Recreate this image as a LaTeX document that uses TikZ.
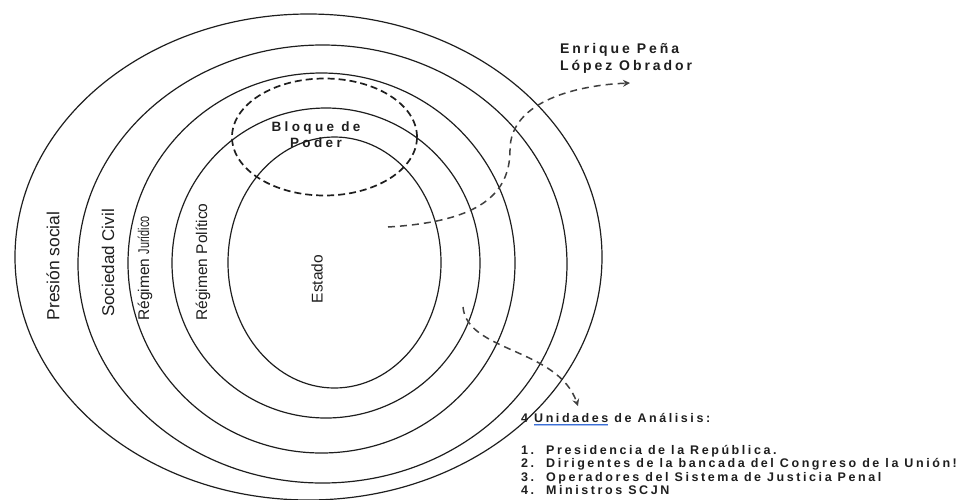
\documentclass[tikz,border=0pt]{standalone}
\usepackage{fontspec}
\setmainfont{Liberation Sans}
\newfontfamily\trackList[LetterSpace=20.5]{Liberation Sans}
\newfontfamily\trackName[LetterSpace=21]{Liberation Sans}
\newfontfamily\trackBloque[LetterSpace=25]{Liberation Sans}
\usetikzlibrary{arrows.meta,shapes.geometric}
\definecolor{ink}{HTML}{1E1E1E}
\definecolor{ulblue}{HTML}{3B6FD6}
\newcommand\spellul[1]{\setbox0\hbox{#1}\rlap{\color{ulblue}\rule[-2.4pt]{\wd0}{0.8pt}}\rlap{\color{ulblue!45}\rule[-4pt]{\wd0}{0.6pt}}\box0}
\begin{document}
\begin{tikzpicture}[x=1pt,y=-1pt,
  ring/.style={ellipse, draw=ink, line width=1.2pt, inner sep=0pt, outer sep=0pt},
  bloque/.style={ellipse, draw=ink, line width=1.7pt, dash pattern=on 7pt off 4pt, inner sep=0pt},
  darrow/.style={draw=ink!85, line width=1.5pt, dash pattern=on 7pt off 5pt, -{Stealth[length=7pt,width=7pt,inset=2.5pt]}},
  vlabel/.style={rotate=90, text=ink, inner sep=0pt},
  listline/.style={anchor=base west, text=ink, inner sep=0pt, font=\trackList\bfseries\fontsize{12.5}{14}\selectfont},
  namebox/.style={anchor=base west, text=ink, inner sep=0pt, font=\trackName\bfseries\fontsize{14}{17}\selectfont}
]
\useasboundingbox (0,0) rectangle (961,499);

% concentric ellipses
\node[ring, minimum width=587pt, minimum height=486pt] (presion) at (308.5,257) {};
\node[ring, minimum width=489pt, minimum height=438pt] (sociedad) at (322.5,264) {};
\node[ring, minimum width=387pt, minimum height=380pt] (juridico) at (321.5,263) {};
\node[ring, minimum width=308pt, minimum height=310pt] (politico) at (326,263) {};
\node[ring, minimum width=213pt, minimum height=251pt] (estado) at (334.5,262.5) {};
\node[bloque, minimum width=185pt, minimum height=117pt] (bloque) at (324.5,137) {};

% vertical labels
\node[vlabel, font=\fontsize{17.5}{20}\selectfont] (lpresion) at (53,266) {Presión social};
\node[vlabel, font=\fontsize{17}{20}\selectfont] (lsociedad) at (108,263) {Sociedad Civil};
\node[vlabel, font=\fontsize{15.5}{18}\selectfont] (ljuridico) at (145,268.5) {Régimen \scalebox{0.7}[1]{Jurídico}};
\node[vlabel, font=\fontsize{15.5}{18}\selectfont] (lpolitico) at (203,262) {Régimen Político};
\node[vlabel, font=\fontsize{15.5}{18}\selectfont] (lestado) at (317,279) {Estado};

% Bloque de Poder
\node[text=ink, inner sep=0pt, align=center, font=\trackBloque\bfseries\fontsize{13.5}{16}\selectfont] (lbloque) at (316,135) {Bloque de\\Poder};

% names
\node[namebox] (enrique) at (560,53) {Enrique Peña};
\node[namebox] (lopez) at (560,70) {López Obrador};

% list
\node[listline] (head) at (521,422) {4 \spellul{Unidades}\ de Análisis:};
\node[listline] (item1) at (521,454) {\makebox[25pt][l]{1.}Presidencia de la República.};
\node[listline] (item2) at (521,467.5) {\makebox[25pt][l]{2.}Dirigentes de la bancada del Congreso de la Unión!};
\node[listline] (item3) at (521,481) {\makebox[25pt][l]{3.}Operadores del Sistema de Justicia Penal};
\node[listline] (item4) at (521,494.5) {\makebox[25pt][l]{4.}Ministros SCJN};

% dashed arrows
\coordinate (a1s) at (388,227);
\coordinate (a1m) at (510,150);
\coordinate (a1e) at (630,83);
\draw[darrow] (a1s) .. controls (470,222) and (510,200) .. (a1m) .. controls (510,100) and (580,85) .. (a1e);

\coordinate (a2s) at (463,307);
\coordinate (a2e) at (578,406);
\draw[darrow] (a2s) .. controls (467,352) and (558,348) .. (a2e);
\end{tikzpicture}
\end{document}
